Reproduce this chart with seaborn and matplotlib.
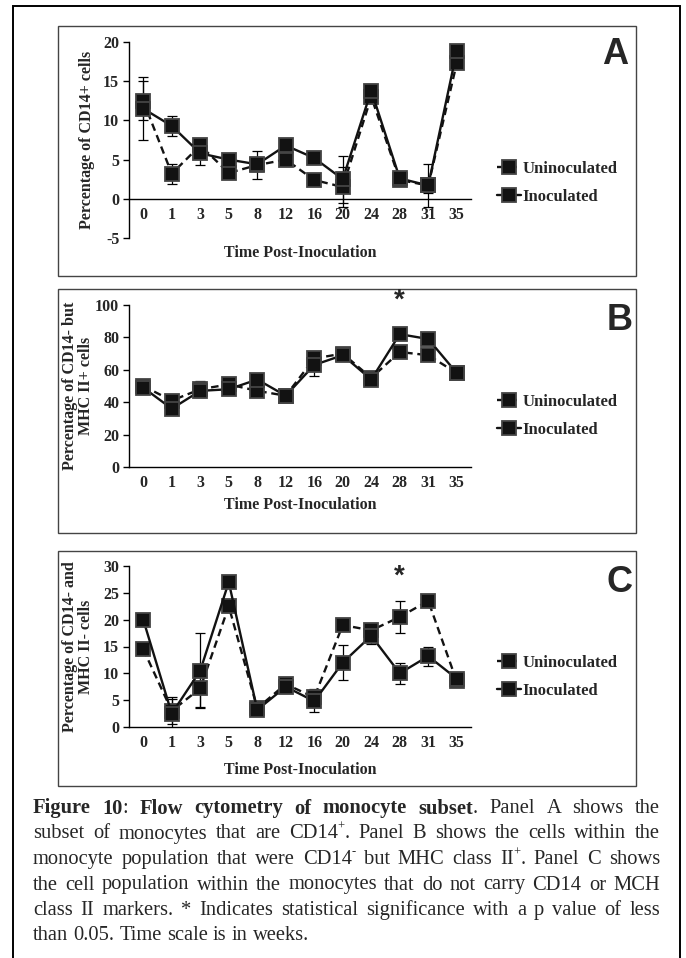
import numpy as np
import pandas as pd
import matplotlib
matplotlib.use("Agg")
import matplotlib.pyplot as plt
from matplotlib.patches import Rectangle
from matplotlib.lines import Line2D
import seaborn as sns

# ---------------- data ----------------
weeks = ["0", "1", "3", "5", "8", "12", "16", "20", "24", "28", "31", "35"]
groups = ["Uninoculated", "Inoculated"]

a_unin = [12.5, 3.2, 6.8, 3.3, 4.3, 5.0, 2.4, 1.5, 13.0, 2.4, 1.7, 17.3]
a_unin_err = [2.5, 1.3, 0.8, 0.6, 1.8, 0.6, 0.5, 2.5, 0.8, 0.5, 2.8, 0.8]
a_inoc = [11.5, 9.3, 5.8, 5.0, 4.4, 6.8, 5.2, 2.5, 13.8, 2.6, 1.7, 18.8]
a_inoc_err = [4.0, 1.3, 1.5, 0.7, 0.8, 0.7, 0.5, 3.0, 0.8, 0.5, 1.0, 0.8]

b_unin = [50, 41, 48, 51, 47, 44, 67, 70, 55, 71, 69, 58]
b_unin_err = [3, 2, 5, 3, 3, 2, 3, 2, 2, 2, 2, 2]
b_inoc = [49, 36, 47, 48, 54, 44, 63, 69, 54, 82, 79, 58]
b_inoc_err = [3, 3, 3, 3, 3, 2, 7, 2, 2, 2, 2, 2]

c_unin = [14.5, 3.0, 7.2, 22.5, 3.5, 8.0, 5.5, 19.0, 18.0, 20.5, 23.5, 8.5]
c_unin_err = [1.0, 2.5, 3.5, 1.0, 0.8, 1.0, 1.5, 1.0, 1.0, 3.0, 1.0, 0.8]
c_inoc = [20.0, 2.5, 10.5, 27.0, 3.2, 7.5, 4.8, 12.0, 17.0, 10.0, 13.2, 9.0]
c_inoc_err = [1.0, 2.7, 7.0, 1.0, 0.8, 1.0, 2.0, 3.2, 1.5, 2.0, 1.8, 0.8]

ylabels = ["Percentage of CD14+ cells",
           "Percentage of CD14- but\nMHC II+ cells",
           "Percentage of CD14- and\nMHC II- cells"]
xlabel = "Time Post-Inoculation"
panel_letters = ["A", "B", "C"]
ylims = [(-5, 20), (0, 100), (0, 30)]
yticks = [[-5, 0, 5, 10, 15, 20], [0, 20, 40, 60, 80, 100], [0, 5, 10, 15, 20, 25, 30]]
star_idx = [None, 9, 9]
star_val = [None, 103, 28]

# "^x" marks a superscript character; "**word" marks a bold word
caption_lines = [
    "**Figure **10: **Flow **cytometry **of **monocyte **subset. Panel A shows the",
    "subset of monocytes that are CD14^+. Panel B shows the cells within the",
    "monocyte population that were CD14^- but MHC class II^+. Panel C shows",
    "the cell population within the monocytes that do not carry CD14 or MCH",
    "class II markers. * Indicates statistical significance with a p value of less",
    "than 0.05. Time scale is in weeks.",
]

# ---------------- style ----------------
sns.set_theme(style="white")
plt.rcParams["font.family"] = ["Liberation Serif", "DejaVu Serif"]
plt.rcParams["axes.unicode_minus"] = False

W, H = 686, 958
fig = plt.figure(figsize=(W / 100, H / 100), dpi=100)
fig.patch.set_facecolor("white")


def rect(left, right, top, bottom):
    return [left / W, 1 - bottom / H, (right - left) / W, (bottom - top) / H]


def frame(left, right, top, bottom, lw, color):
    fig.add_artist(Rectangle((left / W, 1 - bottom / H), (right - left) / W,
                             (bottom - top) / H, transform=fig.transFigure,
                             fill=False, lw=lw, edgecolor=color, zorder=0))


frame(13, 680, 6, 962, 1.4, "black")
boxes = [(58, 636, 26, 276), (58, 636, 289, 533), (58, 636, 551, 786)]
for bx in boxes:
    frame(*bx, 1.0, "#444444")

ax_rects = [(129, 471, 42, 238), (129, 471, 305, 467), (129, 471, 566, 727)]
xlabel_y = [253, 505, 770]
letter_pos = [(615, 54), (620, 320), (620, 582)]
legend_y = [183, 416, 677]

series = [(a_unin, a_unin_err, a_inoc, a_inoc_err),
          (b_unin, b_unin_err, b_inoc, b_inoc_err),
          (c_unin, c_unin_err, c_inoc, c_inoc_err)]

mk_face = "#121212"
mk_edge = "#444444"
msize = 10.5
fs = 11.5

for i in range(3):
    l, r, t, b = ax_rects[i]
    ax = fig.add_axes(rect(l, r, t, b))
    ax.set_facecolor("none")
    unin, unin_e, inoc, inoc_e = series[i]
    df = pd.DataFrame({
        "week": weeks * 2,
        "value": list(unin) + list(inoc),
        "group": [groups[0]] * len(weeks) + [groups[1]] * len(weeks),
    })
    pos = np.arange(len(weeks))
    ax.errorbar(pos, unin, yerr=unin_e, fmt="none", ecolor="black",
                elinewidth=0.9, capsize=3.5, capthick=0.9, zorder=1)
    ax.errorbar(pos, inoc, yerr=inoc_e, fmt="none", ecolor="black",
                elinewidth=0.9, capsize=3.5, capthick=0.9, zorder=1)
    sns.pointplot(data=df, x="week", y="value", hue="group", order=weeks,
                  hue_order=groups, palette=[mk_face, mk_face],
                  markers=["s", "s"], linestyles=["--", "-"], errorbar=None,
                  markersize=msize, linewidth=1.7, markeredgecolor=mk_edge,
                  markeredgewidth=1.3, legend=False, ax=ax)
    for ln in ax.lines:
        if ln.get_linestyle() == "--":
            ln.set_dashes((3.2, 2.0))
    ax.set_xlim(-0.5, len(weeks) - 0.5)
    ax.set_ylim(*ylims[i])
    ax.set_yticks(yticks[i])
    ax.set_yticklabels([str(v) for v in yticks[i]])
    for s in ["top", "right"]:
        ax.spines[s].set_visible(False)
    for s in ["left", "bottom"]:
        ax.spines[s].set_color("black")
        ax.spines[s].set_linewidth(1.0)
    if ylims[i][0] < 0:
        ax.spines["bottom"].set_position(("data", 0))
    ax.set_xticks(np.arange(-0.5, len(weeks), 1.0), minor=True)
    ax.tick_params(axis="x", which="major", length=0, pad=6, labelsize=fs)
    ax.tick_params(axis="x", which="minor", length=4, width=1.0,
                   direction="out", color="black")
    ax.tick_params(axis="y", which="major", length=4, width=1.0, pad=3,
                   direction="out", color="black", labelsize=fs, left=True)
    for lab in ax.get_xticklabels() + ax.get_yticklabels():
        lab.set_fontweight("bold")
    ax.set_xlabel(xlabel, fontsize=fs, fontweight="bold")
    ax.xaxis.set_label_coords(0.5, -(xlabel_y[i] - 8 - b) / (b - t))
    ax.set_ylabel(ylabels[i], fontsize=fs, fontweight="bold",
                  linespacing=1.0)
    if i == 0:
        ax.yaxis.set_label_coords(-(129 - 95) / (r - l), 0.5)
    else:
        ax.yaxis.set_label_coords(-(129 - 94) / (r - l), 0.5)
    ax.grid(False)

    if star_idx[i] is not None:
        ax.text(star_idx[i], star_val[i], "*", ha="center", va="center",
                fontsize=20, fontweight="bold", family="Liberation Sans",
                clip_on=False)

    handles = [Line2D([], [], color=mk_face, ls=(0, (3.2, 2.0)), lw=1.7,
                      marker="s", markersize=msize, markerfacecolor=mk_face,
                      markeredgecolor=mk_edge, markeredgewidth=1.3),
               Line2D([], [], color=mk_face, ls="-", lw=1.7, marker="s",
                      markersize=msize, markerfacecolor=mk_face,
                      markeredgecolor=mk_edge, markeredgewidth=1.3)]
    ax.legend(handles, groups, loc="center left",
              bbox_to_anchor=(497 / W, 1 - legend_y[i] / H),
              bbox_transform=fig.transFigure, frameon=False,
              prop={"family": "Liberation Serif", "weight": "bold",
                    "size": 12},
              handlelength=1.45, handletextpad=0.1, labelspacing=0.75,
              borderpad=0, borderaxespad=0)

    lx, ly = letter_pos[i]
    fig.text(lx / W, 1 - ly / H, panel_letters[i], ha="center", va="center",
             fontsize=26, fontweight="bold", family="Liberation Sans")

# ---------------- caption (justified) ----------------
fig.canvas.draw()
renderer = fig.canvas.get_renderer()
cap_size = 14.8
sup_size = 9.0
x0, x1 = 33, 660
cap_y0, cap_dy = 806, 25.5


def parse(line):
    words = []
    for tok in line.split(" "):
        weight = "normal"
        if tok.startswith("**"):
            tok = tok[2:]
            weight = "bold"
        segs = []
        buf = ""
        j = 0
        while j < len(tok):
            ch = tok[j]
            if ch == "^" and j + 1 < len(tok):
                if buf:
                    segs.append((buf, weight))
                    buf = ""
                segs.append((tok[j + 1], "sup"))
                j += 2
                continue
            if weight == "bold" and ch in ".:":
                if buf:
                    segs.append((buf, weight))
                    buf = ""
                segs.append((ch, "normal"))
                j += 1
                continue
            buf += ch
            j += 1
        if buf:
            segs.append((buf, weight))
        words.append(segs)
    return words


def make_text(x, y, s, kind):
    if kind == "sup":
        return fig.text(x / W, 1 - (y - 6) / H, s, fontsize=sup_size,
                        family="Liberation Serif", ha="left",
                        va="center_baseline")
    return fig.text(x / W, 1 - y / H, s, fontsize=cap_size, fontweight=kind,
                    family="Liberation Serif", ha="left", va="center_baseline")


def seg_width(s, kind):
    tt = make_text(0, 0, s, kind)
    wpx = tt.get_window_extent(renderer).width
    tt.remove()
    return wpx


space_w = seg_width("a a", "normal") - 2 * seg_width("a", "normal")

for k, line in enumerate(caption_lines):
    words = parse(line)
    widths = [[seg_width(s, kd) for s, kd in w] for w in words]
    total = sum(sum(ws) for ws in widths)
    last = k == len(caption_lines) - 1
    if last or len(words) < 2:
        gap = space_w
    else:
        gap = (x1 - x0 - total) / (len(words) - 1)
    x = x0
    y = cap_y0 + k * cap_dy
    for w, ws in zip(words, widths):
        for (s, kd), sw in zip(w, ws):
            make_text(x, y, s, kd)
            x += sw
        x += gap

fig.savefig("out.png", dpi=100, facecolor="white")
